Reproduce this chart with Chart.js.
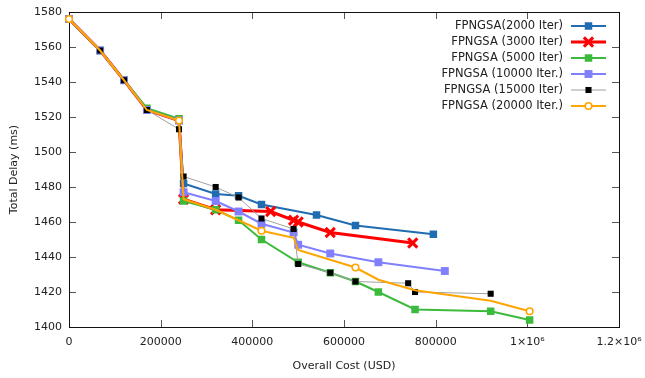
<!DOCTYPE html>
<html>
<head>
<meta charset="utf-8">
<script src="https://cdn.jsdelivr.net/npm/chart.js@4/dist/chart.umd.min.js"></script>
<style>
html,body{margin:0;padding:0;background:#fff;}
#wrap{width:645px;height:378px;position:relative;}
</style>
</head>
<body>
<div id="wrap"><canvas id="c" width="645" height="378"></canvas></div>
<script>
// ---- data ----
const seriesNames = ["FPNGSA(2000 Iter)", "FPNGSA (3000 Iter)", "FPNGSA (5000 Iter)", "FPNGSA (10000 Iter.)", "FPNGSA (15000 Iter)", "FPNGSA (20000 Iter.)"];

const cost2000  = [0, 68000, 120000, 170000, 240000, 250000, 320000, 370000, 420000, 540000, 625000, 795000];
const delay2000 = [1576, 1558, 1541, 1524, 1518, 1482, 1476, 1475, 1470, 1464, 1458, 1453];

const cost3000  = [0, 68000, 120000, 170000, 240000, 250000, 320000, 440000, 490000, 500000, 570000, 750000];
const delay3000 = [1576, 1558, 1541, 1524, 1518, 1473, 1467, 1466, 1461, 1460, 1454, 1448];
const marked3000 = [false, false, false, false, false, true, true, true, true, true, true, true];

const cost5000  = [0, 68000, 120000, 170000, 240000, 250000, 320000, 370000, 420000, 500000, 570000, 625000, 675000, 755000, 920000, 1005000];
const delay5000 = [1576, 1558, 1541, 1525, 1519, 1472, 1467, 1461, 1450, 1437, 1431, 1426, 1420, 1410, 1409, 1404];

const cost10000  = [0, 68000, 120000, 170000, 240000, 250000, 320000, 370000, 420000, 490000, 500000, 570000, 675000, 820000];
const delay10000 = [1576, 1558, 1541, 1524, 1518, 1477, 1472, 1466, 1459, 1454, 1447, 1442, 1437, 1432];

const cost15000  = [0, 68000, 120000, 170000, 240000, 250000, 320000, 370000, 420000, 490000, 500000, 570000, 625000, 740000, 755000, 920000];
const delay15000 = [1576, 1558, 1541, 1524, 1513, 1486, 1480, 1474, 1462, 1456, 1436, 1431, 1426, 1425, 1420, 1419];

const cost20000  = [0, 68000, 120000, 170000, 240000, 250000, 320000, 370000, 420000, 490000, 500000, 625000, 675000, 755000, 920000, 1005000];
const delay20000 = [1576, 1558, 1541, 1524, 1518, 1473, 1467, 1461, 1455, 1451, 1444, 1434, 1427, 1421, 1415, 1409];
const marked20000 = [true, false, false, false, true, false, false, false, true, false, false, true, false, false, false, true];

const yTicks = [1400, 1420, 1440, 1460, 1480, 1500, 1520, 1540, 1560, 1580];
const xTickLabels = ["0", "200000", "400000", "600000", "800000", "1×10⁶", "1.2×10⁶"];
const xTicks = [0, 200000, 400000, 600000, 800000, 1000000, 1200000];

function pts(xs, ys){ return xs.map((x,i)=>({x:x, y:ys[i]})); }

Chart.defaults.font.family = "'DejaVu Sans', sans-serif";
Chart.defaults.font.size = 11;
Chart.defaults.color = '#222';

const styles = [
  {color:'#1f6cb0', width:2, style:'rect', r:5.3, fill:'#1f6cb0', bw:0, line:'#1f6cb0'},
  {color:'#ff0000', width:3, style:'crossRot', r:6.5, fill:'#ff0000', bw:3, line:'#ff0000'},
  {color:'#3cba3c', width:2, style:'rect', r:5.3, fill:'#3cba3c', bw:0, line:'#3cba3c'},
  {color:'#8080ff', width:2, style:'rect', r:5.6, fill:'#8080ff', bw:0, line:'#8080ff'},
  {color:'#000000', width:1, style:'rect', r:4.3, fill:'#000000', bw:0, line:'#a0a0a0'},
  {color:'#ffa500', width:2, style:'circle', r:3.3, fill:'#ffffff', bw:1.6, line:'#ffa500'}
];

const allData = [
  pts(cost2000, delay2000), pts(cost3000, delay3000), pts(cost5000, delay5000),
  pts(cost10000, delay10000), pts(cost15000, delay15000), pts(cost20000, delay20000)
];
const markMasks = [null, marked3000, null, null, null, marked20000];

const datasets = allData.map((d, i) => {
  const s = styles[i];
  const mask = markMasks[i];
  return {
    label: seriesNames[i],
    data: d,
    borderColor: s.line,
    borderWidth: s.width,
    backgroundColor: s.fill,
    pointStyle: s.style,
    pointRadius: mask ? mask.map(m => m ? s.r : 0) : s.r,
    pointBackgroundColor: s.fill,
    pointBorderColor: s.color,
    pointBorderWidth: s.bw,
    pointHoverRadius: s.r,
    tension: 0,
    clip: false,
    order: 6 - i
  };
});

function drawMarker(ctx, s, x, y){
  ctx.save();
  ctx.fillStyle = s.fill; ctx.strokeStyle = s.color;
  if (s.style === 'rect') {
    const h = Math.SQRT1_2 * s.r;
    ctx.fillRect(x-h, y-h, 2*h, 2*h);
  } else if (s.style === 'crossRot') {
    const h = Math.SQRT1_2 * s.r;
    ctx.lineWidth = s.bw;
    ctx.beginPath();
    ctx.moveTo(x-h, y-h); ctx.lineTo(x+h, y+h);
    ctx.moveTo(x+h, y-h); ctx.lineTo(x-h, y+h);
    ctx.stroke();
  } else {
    ctx.lineWidth = s.bw;
    ctx.beginPath(); ctx.arc(x, y, s.r, 0, Math.PI*2); ctx.fill(); ctx.stroke();
  }
  ctx.restore();
}

const framePlugin = {
  id: 'frame',
  beforeDatasetsDraw(chart){
    const {ctx, chartArea:a, scales} = chart;
    ctx.save();
    ctx.strokeStyle = '#555'; ctx.lineWidth = 1;
    ctx.beginPath();
    yTicks.forEach(v => {
      const y = Math.round(scales.y.getPixelForValue(v)) + 0.5;
      ctx.moveTo(a.left, y); ctx.lineTo(a.left + 7, y);
      ctx.moveTo(a.right, y); ctx.lineTo(a.right - 7, y);
    });
    xTicks.forEach(v => {
      const x = Math.round(scales.x.getPixelForValue(v)) + 0.5;
      ctx.moveTo(x, a.bottom); ctx.lineTo(x, a.bottom - 7);
      ctx.moveTo(x, a.top); ctx.lineTo(x, a.top + 7);
    });
    ctx.stroke();
    ctx.strokeStyle = '#111';
    ctx.strokeRect(Math.round(a.left)+0.5, Math.round(a.top)+0.5, Math.round(a.right-a.left), Math.round(a.bottom-a.top));
    ctx.restore();
  },
  afterDatasetsDraw(chart){
    const {ctx} = chart;
    ctx.save();
    ctx.font = "11.5px 'DejaVu Sans', sans-serif";
    ctx.textAlign = 'right'; ctx.textBaseline = 'middle';
    ctx.fillStyle = '#222';
    seriesNames.forEach((n, i) => {
      const y = 26 + i * 16;
      ctx.fillText(n, 563, y);
      const s = styles[i];
      ctx.strokeStyle = s.line; ctx.lineWidth = s.width;
      ctx.beginPath(); ctx.moveTo(571, y); ctx.lineTo(606, y); ctx.stroke();
      drawMarker(ctx, s, 588.5, y);
    });
    ctx.restore();
  }
};

new Chart(document.getElementById('c'), {
  type: 'line',
  data: { datasets },
  options: {
    responsive: false,
    animation: false,
    events: [],
    layout: { padding: { left: 0, top: 12, right: 26, bottom: 0 } },
    plugins: { legend: { display: false }, tooltip: { enabled: false } },
    scales: {
      x: {
        type: 'linear', min: 0, max: 1200000,
        grid: { display: false, drawTicks: false },
        border: { display: false },
        ticks: {
          stepSize: 200000, padding: 9, maxRotation: 0, autoSkip: false, color: '#222',
          callback: (v) => { const i = xTicks.indexOf(v); return i >= 0 ? xTickLabels[i] : ''; }
        },
        title: { display: true, text: 'Overall Cost (USD)', color: '#222', padding: { top: 0, bottom: 5 } },
        afterFit: (s) => { s.height = 51; s.paddingRight = 0; s.paddingLeft = 0; }
      },
      y: {
        type: 'linear', min: 1400, max: 1580,
        grid: { display: false, drawTicks: false },
        border: { display: false },
        ticks: { stepSize: 20, padding: 7, color: '#222', callback: (v) => String(v) },
        title: { display: true, text: 'Total Delay (ms)', color: '#222', padding: { top: 8, bottom: 0 } },
        afterFit: (s) => { s.width = 69; s.paddingTop = 0; s.paddingBottom = 0; }
      }
    }
  },
  plugins: [framePlugin]
});
</script>
</body>
</html>
